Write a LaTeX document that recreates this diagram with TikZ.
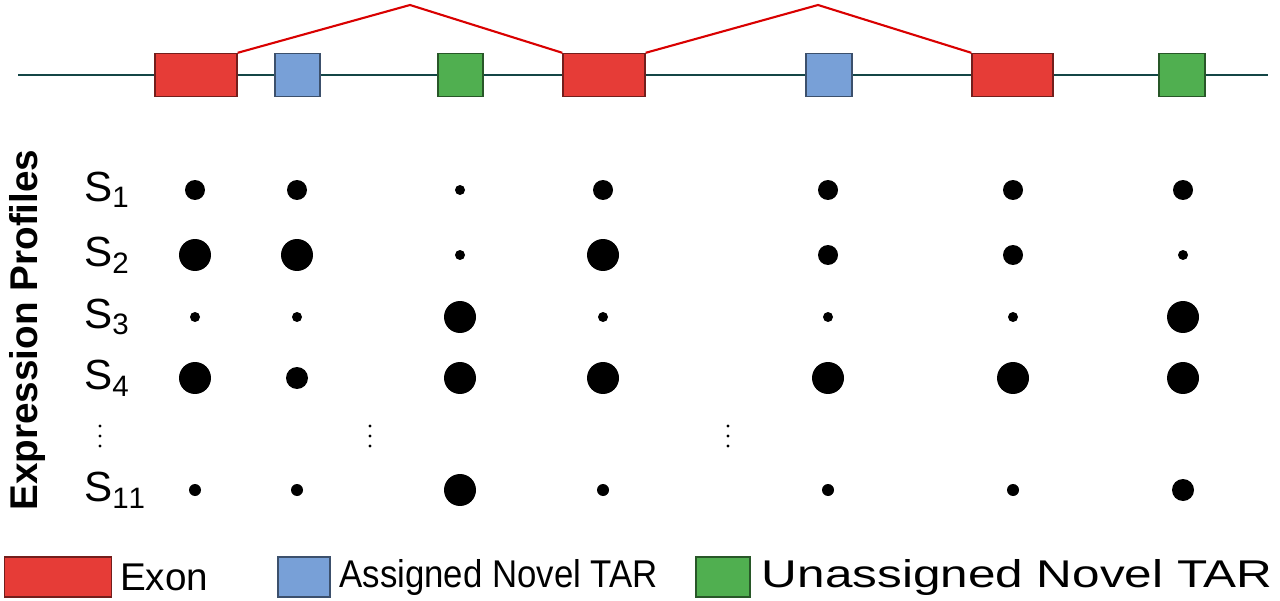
\documentclass[tikz,border=0pt]{standalone}
\usepackage{fontspec}
\setmainfont{Liberation Sans}
\begin{document}
\begin{tikzpicture}[x=0.02cm,y=-0.02cm,
 box/.style={draw=#1!50!black,line width=0.8pt,fill=#1},
 dot/.style={fill=black,circle,inner sep=0pt,minimum size=#1*0.04cm},
 lab/.style={font=\fontsize{24}{26}\selectfont,anchor=west},
 leg/.style={font=\fontsize{22}{24}\selectfont,anchor=west}]
\definecolor{exr}{RGB}{230,60,55}
\definecolor{blu}{RGB}{120,160,215}
\definecolor{grn}{RGB}{80,175,80}
\useasboundingbox (0,0) rectangle (1280,601);
\coordinate (L) at (18,75); \coordinate (R) at (1268,75);
\draw[color={rgb,255:red,20;green,70;blue,70},line width=1.2pt] (L) -- (R);
\foreach \n/\a/\b/\c in {e1/155/237/exr,b1/275/320/blu,g1/438/483/grn,e2/563/645/exr,b2/806/852/blu,e3/972/1053/exr,g2/1159/1205/grn}
 \node[box=\c,inner sep=0pt,minimum width={(\b-\a)*0.02cm},minimum height=0.86cm] (\n) at ({(\a+\b)/2},75) {};
\coordinate (p1) at (410,5); \coordinate (p2) at (818,5);
\draw[red!85!black,line width=1.2pt] (e1.north east) -- (p1) -- (e2.north west);
\draw[red!85!black,line width=1.2pt] (e2.north east) -- (p2) -- (e3.north west);
\node[rotate=90,font=\bfseries\fontsize{22}{24}\selectfont] (ep) at (28,330) {Expression Profiles};
\foreach \t/\y in {1/190,2/255,3/317,4/378,11/490}
 \node[lab] (s\t) at (78,\y) {S$_{\mathrm{\t}}$};
\foreach \x/\n in {100/a,370/b,728/c}
 \foreach \k in {0,1,2}
  \fill (\x,{426+\k*10}) circle (1.6);
\def\xs{{195,297,460,603,828,1013,1183}}
\foreach \y/\rs [count=\r] in {190/{10,10,5,10,10,10,10},255/{16,16,5,16,10,10,5},317/{5,5,16,5,5,5,16},378/{16,11,16,16,16,16,16},490/{6,6,16,6,6,6,11}}
 \foreach \s [count=\c from 0] in \rs
  \node[dot=\s] (d\r-\c) at ({\xs[\c]},\y) {};
\node[box=exr,inner sep=0pt,minimum width=2.14cm,minimum height=0.8cm] (le) at (58,577) {};
\node[leg] (te) at (114,577) {Exon};
\node[box=blu,inner sep=0pt,minimum width=1.04cm,minimum height=0.8cm] (lb) at (304,577) {};
\node[leg,xscale=0.9] (tb) at (334,577) {Assigned Novel TAR};
\node[box=grn,inner sep=0pt,minimum width=1.08cm,minimum height=0.8cm] (lg) at (723,577) {};
\node[leg,xscale=1.28] (tg) at (754,577) {Unassigned Novel TAR};
\end{tikzpicture}
\end{document}
